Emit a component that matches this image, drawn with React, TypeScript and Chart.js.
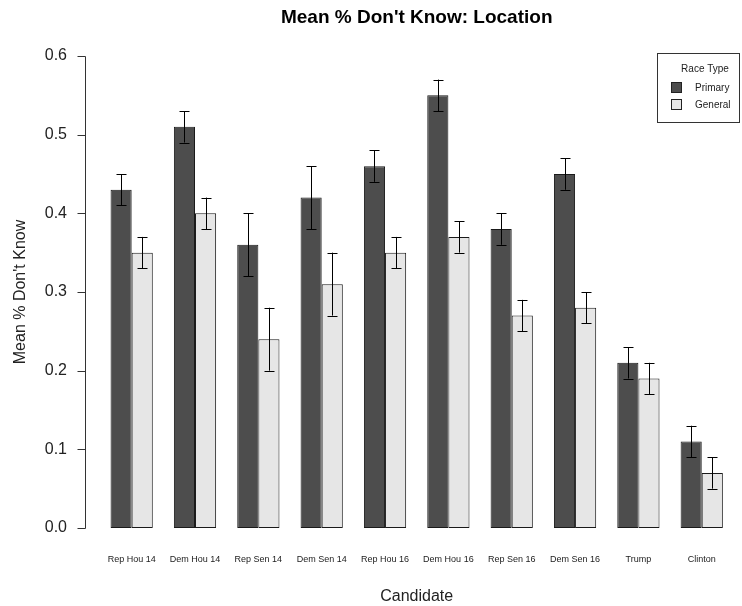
import React, { useEffect, useRef } from "react";
import { Chart, registerables } from "chart.js";

Chart.register(...registerables);

const candidates = [
  "Rep Hou 14", "Dem Hou 14", "Rep Sen 14", "Dem Sen 14", "Rep Hou 16",
  "Dem Hou 16", "Rep Sen 16", "Dem Sen 16", "Trump", "Clinton",
];
const primaryMean = [0.43, 0.51, 0.36, 0.42, 0.46, 0.55, 0.38, 0.45, 0.21, 0.11];
const primaryLow = [0.41, 0.49, 0.32, 0.38, 0.44, 0.53, 0.36, 0.43, 0.19, 0.09];
const primaryHigh = [0.45, 0.53, 0.40, 0.46, 0.48, 0.57, 0.40, 0.47, 0.23, 0.13];
const generalMean = [0.35, 0.40, 0.24, 0.31, 0.35, 0.37, 0.27, 0.28, 0.19, 0.07];
const generalLow = [0.33, 0.38, 0.20, 0.27, 0.33, 0.35, 0.25, 0.26, 0.17, 0.05];
const generalHigh = [0.37, 0.42, 0.28, 0.35, 0.37, 0.39, 0.29, 0.30, 0.21, 0.09];
const yTicks = [0, 0.1, 0.2, 0.3, 0.4, 0.5, 0.6];

const FONT = "'Liberation Sans', Arial, sans-serif";
const PRIMARY_FILL = "#4d4d4d";
const GENERAL_FILL = "#e6e6e6";

// Draws the R-style detached y axis, titles, legend box and error bars.
const decorations = {
  id: "decorations",
  afterDatasetsDraw(chart: any) {
    const ctx = chart.ctx as CanvasRenderingContext2D;
    const area = chart.chartArea;
    const y = chart.scales.y;

    // error bars
    const bounds = [
      [primaryLow, primaryHigh],
      [generalLow, generalHigh],
    ];
    ctx.save();
    ctx.strokeStyle = "#000";
    ctx.lineWidth = 1;
    chart.data.datasets.forEach((_: any, di: number) => {
      const meta = chart.getDatasetMeta(di);
      meta.data.forEach((bar: any, i: number) => {
        const x = Math.round(bar.x) + 0.5;
        const lo = y.getPixelForValue(bounds[di][0][i]);
        const hi = y.getPixelForValue(bounds[di][1][i]);
        ctx.beginPath();
        ctx.moveTo(x, lo);
        ctx.lineTo(x, hi);
        ctx.moveTo(x - 5, Math.round(lo) + 0.5);
        ctx.lineTo(x + 5, Math.round(lo) + 0.5);
        ctx.moveTo(x - 5, Math.round(hi) + 0.5);
        ctx.lineTo(x + 5, Math.round(hi) + 0.5);
        ctx.stroke();
      });
    });
    ctx.restore();

    // y axis
    const axisX = 85.5;
    ctx.save();
    ctx.strokeStyle = "#333";
    ctx.lineWidth = 1;
    ctx.beginPath();
    ctx.moveTo(axisX, Math.round(y.getPixelForValue(yTicks[0])) + 0.5);
    ctx.lineTo(axisX, Math.round(y.getPixelForValue(yTicks[yTicks.length - 1])) + 0.5);
    yTicks.forEach((t) => {
      const py = Math.round(y.getPixelForValue(t)) + 0.5;
      ctx.moveTo(axisX, py);
      ctx.lineTo(axisX - 8, py);
    });
    ctx.stroke();
    ctx.fillStyle = "#222";
    ctx.font = `16px ${FONT}`;
    ctx.textAlign = "right";
    ctx.textBaseline = "middle";
    yTicks.forEach((t) => {
      ctx.fillText(t.toFixed(1), 67, y.getPixelForValue(t));
    });

    // axis titles
    ctx.save();
    ctx.translate(21, (area.top + area.bottom) / 2);
    ctx.rotate(-Math.PI / 2);
    ctx.textAlign = "center";
    ctx.textBaseline = "middle";
    ctx.font = `16px ${FONT}`;
    ctx.fillText("Mean % Don't Know", 0, 0);
    ctx.restore();
    ctx.textAlign = "center";
    ctx.textBaseline = "middle";
    ctx.font = `16px ${FONT}`;
    ctx.fillText("Candidate", (area.left + area.right) / 2, 597);

    // main title
    ctx.fillStyle = "#000";
    ctx.font = `bold 19px ${FONT}`;
    ctx.fillText("Mean % Don't Know: Location", (area.left + area.right) / 2, 18);

    // legend
    ctx.strokeStyle = "#333";
    ctx.strokeRect(657.5, 53.5, 82, 69);
    ctx.fillStyle = "#222";
    ctx.font = `10px ${FONT}`;
    ctx.fillText("Race Type", 705, 69);
    const items: [string, string, number][] = [
      ["Primary", PRIMARY_FILL, 88],
      ["General", GENERAL_FILL, 105],
    ];
    items.forEach(([label, fill, cy]) => {
      ctx.fillStyle = fill;
      ctx.fillRect(671.5, cy - 5.5, 10, 10);
      ctx.strokeStyle = "#222";
      ctx.strokeRect(671.5, cy - 5.5, 10, 10);
      ctx.fillStyle = "#222";
      ctx.textAlign = "left";
      ctx.fillText(label, 695, cy);
    });
    ctx.restore();
  },
};

export default function App() {
  const canvasRef = useRef<HTMLCanvasElement | null>(null);

  useEffect(() => {
    if (!canvasRef.current) return;
    const chart = new Chart(canvasRef.current, {
      type: "bar",
      data: {
        labels: candidates,
        datasets: [
          {
            label: "Primary",
            data: primaryMean,
            backgroundColor: PRIMARY_FILL,
            borderColor: "#1a1a1a",
            borderWidth: 1,
            borderSkipped: false,
          },
          {
            label: "General",
            data: generalMean,
            backgroundColor: GENERAL_FILL,
            borderColor: "#1a1a1a",
            borderWidth: 1,
            borderSkipped: false,
          },
        ],
      },
      options: {
        responsive: false,
        animation: false,
        layout: { padding: { left: 100, right: 5, top: 56, bottom: 0 } },
        datasets: {
          bar: { categoryPercentage: 2 / 3, barPercentage: 1 },
        },
        plugins: {
          legend: { display: false },
          title: { display: false },
          tooltip: { enabled: false },
        },
        scales: {
          x: {
            grid: { display: false, drawTicks: false },
            border: { display: false },
            ticks: {
              color: "#222",
              font: { family: FONT, size: 9 },
              padding: 26,
              maxRotation: 0,
              autoSkip: false,
            },
            afterFit(scale: any) {
              scale.height = 78;
            },
          },
          y: {
            display: false,
            min: 0,
            max: 0.6,
          },
        },
      },
      plugins: [decorations],
    });
    return () => chart.destroy();
  }, []);

  return (
    <canvas
      ref={canvasRef}
      width={742}
      height={606}
      style={{ position: "absolute", left: 0, top: 0 }}
    />
  );
}
